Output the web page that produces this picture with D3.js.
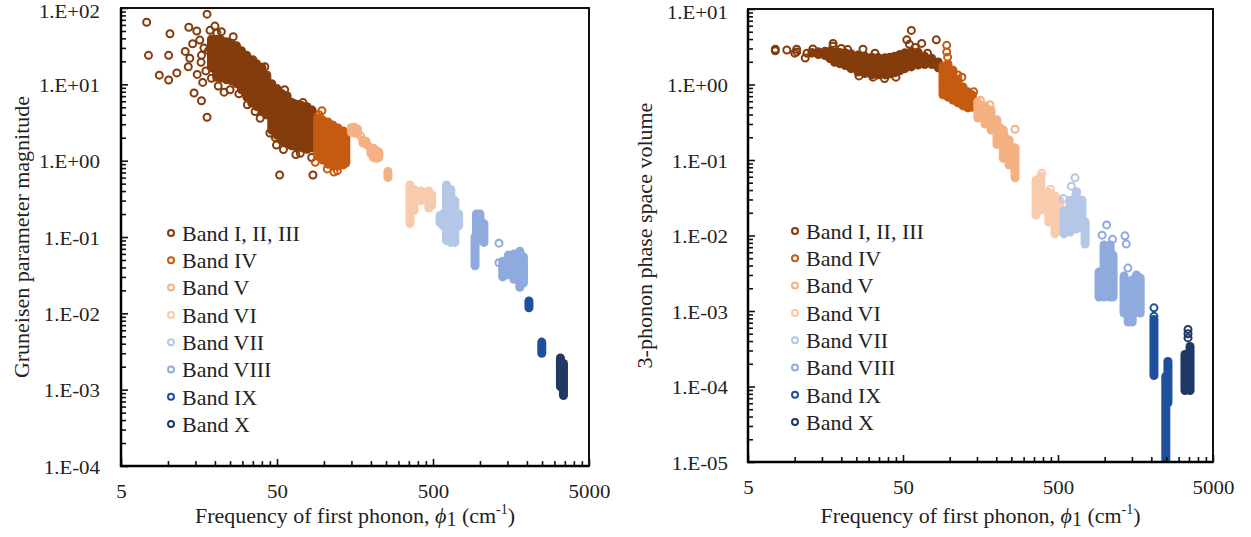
<!DOCTYPE html>
<html>
<head>
<meta charset="utf-8">
<script src="https://cdn.jsdelivr.net/npm/d3@7/dist/d3.min.js"></script>
<style>
  body { margin: 0; background: #fff; }
  svg text { font-family: "Liberation Serif", "Times New Roman", serif; fill: #222; }
</style>
</head>
<body>
<div id="wrapper"></div>
<script>
// Bands, colours and tick labels
const bandNames = ["Band I, II, III", "Band IV", "Band V", "Band VI", "Band VII", "Band VIII", "Band IX", "Band X"];
const bandColors = ["#843C0C", "#C55A11", "#F4B183", "#F8CBAD", "#B4C7E7", "#8FAADC", "#1E4F9C", "#1F3864"];
const xTickValues = [5, 50, 500, 5000];
const xTickLabels = ["5", "50", "500", "5000"];
const gruTickLabels = ["1.E-04", "1.E-03", "1.E-02", "1.E-01", "1.E+00", "1.E+01", "1.E+02"];
const tpsTickLabels = ["1.E-05", "1.E-04", "1.E-03", "1.E-02", "1.E-01", "1.E+00", "1.E+01"];

// Left panel: Gruneisen parameter magnitude
// streaks are dense columns [frequency, lowest value, highest value], points are [frequency, value]
const gruI_streaks = [[19,16.4,39],[20.5,12.4,39],[22,12.1,38],[23.7,11.5,36],[25.5,11.1,34.5],[27.5,10.2,32],[29.6,8.5,27.5],[32,6.8,24],[34.4,5.7,20.4],[37,5.1,18.6],[40,4.6,16.8],[43,4.0,13.3],[46.3,2.5,10.2],[50,2.15,8.8],[54,1.8,7.5],[58,1.7,7.1],[62.5,1.56,5.8],[67,1.52,5.5],[72,1.47,5.3],[78,1.41,5.1],[84,1.47,4.6]];
const gruI_points = [[7.3,65],[17.8,83],[10.3,46],[7.5,24],[10.1,24],[8.8,13.2],[10.1,11.4],[11.4,14.1],[13.6,56],[15.3,50],[12.9,27],[13.8,22],[13.5,17],[14.4,34],[16,38],[16.4,24],[16.3,19.4],[18.2,27.6],[15.4,13.5],[16.7,10.6],[14.7,7.7],[16.4,6.1],[17.8,3.7],[20,58],[22,49],[18.6,51],[52,0.65],[85,0.65],[22.9,7.9],[28.5,7.5],[32.3,5.4],[36.2,4.4],[43,4.0],[50,2.7],[48.8,2.0],[49.6,1.6],[60.7,1.6],[70.5,1.25],[83.4,1.1],[20.6,47],[26.2,42],[35,21],[41.8,17],[56,8.5],[73.3,5.8],[17,30],[17.5,15],[19,12],[21,9.5],[25,8.5],[39,3.6],[45,2.3],[55,1.4],[66,1.2]];
const gruIV_streaks = [[91,1.15,3.62],[98,1.02,3.41],[106,0.9,3.21],[114,0.85,2.93],[123,0.85,2.68],[133,0.88,2.45],[138,0.93,2.23]];
const gruIV_points = [[97,4.5],[116,0.71],[122,0.74],[88,0.95],[105,0.78],[93,4.0]];
const gruV_streaks = [[150,2.35,2.72],[157,2.3,2.75],[164,2.27,2.6],[178,1.7,1.85],[186,1.65,1.8],[200,1.25,1.4],[208,1.1,1.45],[217,1.07,1.35],[225,1.1,1.3],[257,0.6,0.72]];
const gruV_points = [[172,2.1],[193,1.55]];
const gruVI_streaks = [[356,0.15,0.48],[378,0.22,0.42],[420,0.3,0.4],[445,0.32,0.38],[470,0.24,0.4],[490,0.26,0.36]];
const gruVI_points = [];
const gruVII_streaks = [[555,0.155,0.19],[580,0.14,0.2],[610,0.09,0.48],[650,0.085,0.42],[690,0.085,0.3],[730,0.14,0.2]];
const gruVII_points = [];
const gruVIII_streaks = [[930,0.042,0.1],[950,0.09,0.2],[1000,0.1,0.2],[1060,0.085,0.15],[1400,0.03,0.048],[1520,0.032,0.058],[1650,0.028,0.06],[1800,0.022,0.065],[1900,0.025,0.055]];
const gruVIII_points = [[1324,0.083],[1324,0.046]];
const gruIX_streaks = [[2060,0.0118,0.0145],[2490,0.003,0.0042]];
const gruIX_points = [];
const gruX_streaks = [[3280,0.0011,0.0026],[3430,0.00084,0.0022]];
const gruX_points = [];

// Right panel: 3-phonon phase space volume
const tpsI_streaks = [[12.9,2.6,2.66],[14.2,2.5,2.72],[15.7,2.42,2.76],[16.9,2.2,2.75],[18.1,1.97,2.7],[19.6,1.88,2.66],[21.2,1.78,2.63],[23.1,1.62,2.55],[25.6,1.46,2.45],[28.4,1.4,2.37],[31.5,1.34,2.3],[34.5,1.34,2.28],[38.3,1.34,2.26],[41.2,1.38,2.3],[44.2,1.43,2.37],[47.8,1.52,2.5],[51.5,1.62,2.63],[56.6,1.71,2.76],[62.5,1.81,2.7],[69,1.84,2.37],[76.6,1.84,2.22],[84.5,1.66,1.99]];
const tpsI_points = [[7.5,2.93],[7.5,2.8],[8.9,2.86],[10.3,2.93],[10.3,2.7],[11.7,2.24],[13.1,2.95],[12,2.6],[17.7,3.5],[17.7,3.2],[22,2.9],[27.6,2.93],[33,2.6],[38,1.2],[32,1.25],[56.6,5.2],[52.9,3.9],[55,3.4],[66,3.5],[82,3.9],[60,3.1],[72,2.6],[45,1.25],[26,1.3],[10,2.6],[16,2.45],[20,3.0]];
const tpsIV_streaks = [[90.6,0.73,1.76],[97.6,0.68,1.87],[105,0.62,1.55],[113,0.57,1.15],[122,0.52,0.93],[131,0.49,0.8],[140,0.5,0.73]];
const tpsIV_points = [[95.7,3.3],[95.7,2.7],[97,2.3],[113,1.34],[143,0.8],[120,1.25]];
const tpsV_streaks = [[152,0.36,0.59],[169,0.3,0.52],[185,0.25,0.46],[202,0.16,0.34],[222,0.105,0.25],[242,0.086,0.184],[264,0.058,0.145]];
const tpsV_points = [[182,0.54],[211,0.265],[264,0.255],[260,0.124],[158,0.62],[228,0.2]];
const tpsVI_streaks = [[361,0.0187,0.0543],[388,0.0218,0.0614],[436,0.0151,0.0377],[478,0.0105,0.0334],[513,0.0118,0.0295]];
const tpsVI_points = [[393,0.067],[447,0.041],[460,0.032]];
const tpsVII_streaks = [[547,0.0105,0.0211],[598,0.0111,0.0294],[654,0.0122,0.0366],[714,0.0126,0.0294],[748,0.0077,0.0151]];
const tpsVII_points = [[644,0.058],[541,0.031],[660,0.038],[610,0.045]];
const tpsVIII_streaks = [[920,0.00153,0.00329],[991,0.00153,0.0075],[1085,0.00153,0.0075],[1133,0.00153,0.0055],[1334,0.00094,0.00291],[1418,0.000715,0.00221],[1505,0.000715,0.00258],[1605,0.00097,0.003],[1695,0.00094,0.00274]];
const tpsVIII_points = [[1030,0.0138],[963,0.0101],[1125,0.0089],[1352,0.0099],[1378,0.0077],[1412,0.0037]];
const tpsIX_streaks = [[2080,0.00014,0.00077],[2480,0.000008,0.000136],[2560,0.000061,0.000214]];
const tpsIX_points = [[2080,0.0011],[2080,0.00085]];
const tpsX_streaks = [[3297,0.0000885,0.000265],[3555,0.0000885,0.000339]];
const tpsX_points = [[3450,0.00057],[3450,0.0005],[3450,0.00044]];

const svg = d3.select("#wrapper")
  .append("svg")
    .attr("width", 1251)
    .attr("height", 537);

// tick labels in the picture are a little wider than the font, so stretch them
const tickFont = 19, tickStretch = 1.1;

function minorTicks(lo, hi, bases) {
  const out = [];
  bases.forEach(b => d3.range(2, 10).forEach(k => {
    const v = k * b;
    if (v > lo && v < hi) out.push(v);
  }));
  return out;
}

function drawPanel(p) {
  const x = d3.scaleLog().domain([5, 5000]).range([p.left, p.right]);
  const y = d3.scaleLog().domain(p.yDomain).range([p.bottom, p.top]);

  svg.append("clipPath").attr("id", "clip-" + p.id)
    .append("rect")
      .attr("x", p.left).attr("y", p.top)
      .attr("width", p.right - p.left).attr("height", p.bottom - p.top);

  const plot = svg.append("g").attr("clip-path", "url(#clip-" + p.id + ")");

  bandNames.forEach((name, i) => {
    plot.append("g").selectAll("line")
      .data(p.streaks[i])
      .join("line")
        .attr("x1", d => x(d[0]))
        .attr("x2", d => x(d[0]))
        .attr("y1", d => y(d[1]))
        .attr("y2", d => y(d[2]))
        .attr("stroke", bandColors[i])
        .attr("stroke-width", 9)
        .attr("stroke-linecap", "round");
    plot.append("g").selectAll("circle")
      .data(p.points[i])
      .join("circle")
        .attr("cx", d => x(d[0]))
        .attr("cy", d => y(d[1]))
        .attr("r", 3.5)
        .attr("fill", "none")
        .attr("stroke", bandColors[i])
        .attr("stroke-width", 2);
  });

  // frame
  svg.append("rect")
    .attr("x", p.left).attr("y", p.top)
    .attr("width", p.right - p.left).attr("height", p.bottom - p.top)
    .attr("fill", "none").attr("stroke", "#111").attr("stroke-width", 2);

  // y axis
  const yMajor = p.yTickLabels.map((t, i) => p.yDomain[0] * Math.pow(10, i));
  const yMinor = minorTicks(p.yDomain[0], p.yDomain[1], yMajor);
  const last = yMajor.length - 1;
  svg.append("g")
    .attr("transform", "translate(" + p.left + ",0)")
    .call(d3.axisLeft(y).tickValues(yMajor).tickSize(-7).tickPadding(p.yPad)
      .tickFormat((d, i) => p.yTickLabels[i]))
    .call(g => g.select(".domain").remove())
    .call(g => g.selectAll("text")
      .attr("font-size", tickFont)
      .attr("x", -p.yPad / tickStretch)
      .attr("dy", (d, i) => i === last ? "0.5em" : "0.38em")
      .attr("transform", "scale(" + tickStretch + ",1)"));
  svg.append("g")
    .attr("transform", "translate(" + p.left + ",0)")
    .call(d3.axisLeft(y).tickValues(yMinor).tickSize(-5).tickFormat(""))
    .call(g => g.select(".domain").remove());

  // x axis
  svg.append("g")
    .attr("transform", "translate(0," + p.bottom + ")")
    .call(d3.axisBottom(x).tickValues(xTickValues).tickSize(-7).tickPadding(19)
      .tickFormat((d, i) => xTickLabels[i]))
    .call(g => g.select(".domain").remove())
    .call(g => g.selectAll("text")
      .attr("font-size", tickFont)
      .attr("transform", "scale(" + tickStretch + ",1)"));
  svg.append("g")
    .attr("transform", "translate(0," + p.bottom + ")")
    .call(d3.axisBottom(x).tickValues(minorTicks(5, 5000, [5, 50, 500])).tickSize(-5).tickFormat(""))
    .call(g => g.select(".domain").remove());

  svg.selectAll(".tick line").attr("stroke", "#111").attr("stroke-width", 1.6);

  // axis lines
  svg.append("line")
    .attr("x1", p.left).attr("x2", p.left).attr("y1", p.top).attr("y2", p.bottom + 1)
    .attr("stroke", "#000").attr("stroke-width", 2.5);
  svg.append("line")
    .attr("x1", p.left - 1).attr("x2", p.right).attr("y1", p.bottom).attr("y2", p.bottom)
    .attr("stroke", "#000").attr("stroke-width", 2.5);

  // axis titles
  svg.append("text")
    .attr("transform", "translate(" + p.yTitleX + "," + ((p.top + p.bottom) / 2) + ") rotate(-90)")
    .attr("text-anchor", "middle")
    .attr("font-size", 22)
    .text(p.yTitle);

  const xt = svg.append("text")
    .attr("x", (p.left + p.right) / 2)
    .attr("y", 523)
    .attr("text-anchor", "middle")
    .attr("font-size", 22);
  xt.append("tspan").text("Frequency of first phonon, ");
  xt.append("tspan").attr("font-style", "italic").text("\u03D5");
  xt.append("tspan").attr("font-size", 20).attr("dy", 3).text("1");
  xt.append("tspan").attr("dy", -3).text(" (cm");
  xt.append("tspan").attr("font-size", 14).attr("dy", -9).text("-1");
  xt.append("tspan").attr("dy", 9).text(")");

  // legend
  const legend = svg.append("g")
    .attr("transform", "translate(" + p.legendX + "," + p.legendY + ")");
  const rows = legend.selectAll("g")
    .data(bandNames)
    .join("g")
      .attr("transform", (d, i) => "translate(0," + (i * 27.3) + ")");
  rows.append("circle")
    .attr("r", 3)
    .attr("fill", "none")
    .attr("stroke", (d, i) => bandColors[i])
    .attr("stroke-width", 2);
  rows.append("text")
    .attr("x", 11)
    .attr("dy", "0.35em")
    .attr("font-size", 22)
    .text(d => d);
}

drawPanel({
  id: "gru",
  left: 121, right: 589, top: 8, bottom: 466,
  yDomain: [1e-4, 1e2],
  yTickLabels: gruTickLabels,
  yPad: 21,
  yTitle: "Gruneisen parameter magnitude",
  yTitleX: 29,
  streaks: [gruI_streaks, gruIV_streaks, gruV_streaks, gruVI_streaks, gruVII_streaks, gruVIII_streaks, gruIX_streaks, gruX_streaks],
  points: [gruI_points, gruIV_points, gruV_points, gruVI_points, gruVII_points, gruVIII_points, gruIX_points, gruX_points],
  legendX: 171, legendY: 233
});

drawPanel({
  id: "tps",
  left: 748, right: 1213, top: 9, bottom: 462,
  yDomain: [1e-5, 1e1],
  yTickLabels: tpsTickLabels,
  yPad: 20,
  yTitle: "3-phonon phase space volume",
  yTitleX: 652,
  streaks: [tpsI_streaks, tpsIV_streaks, tpsV_streaks, tpsVI_streaks, tpsVII_streaks, tpsVIII_streaks, tpsIX_streaks, tpsX_streaks],
  points: [tpsI_points, tpsIV_points, tpsV_points, tpsVI_points, tpsVII_points, tpsVIII_points, tpsIX_points, tpsX_points],
  legendX: 795, legendY: 231
});
</script>
</body>
</html>
